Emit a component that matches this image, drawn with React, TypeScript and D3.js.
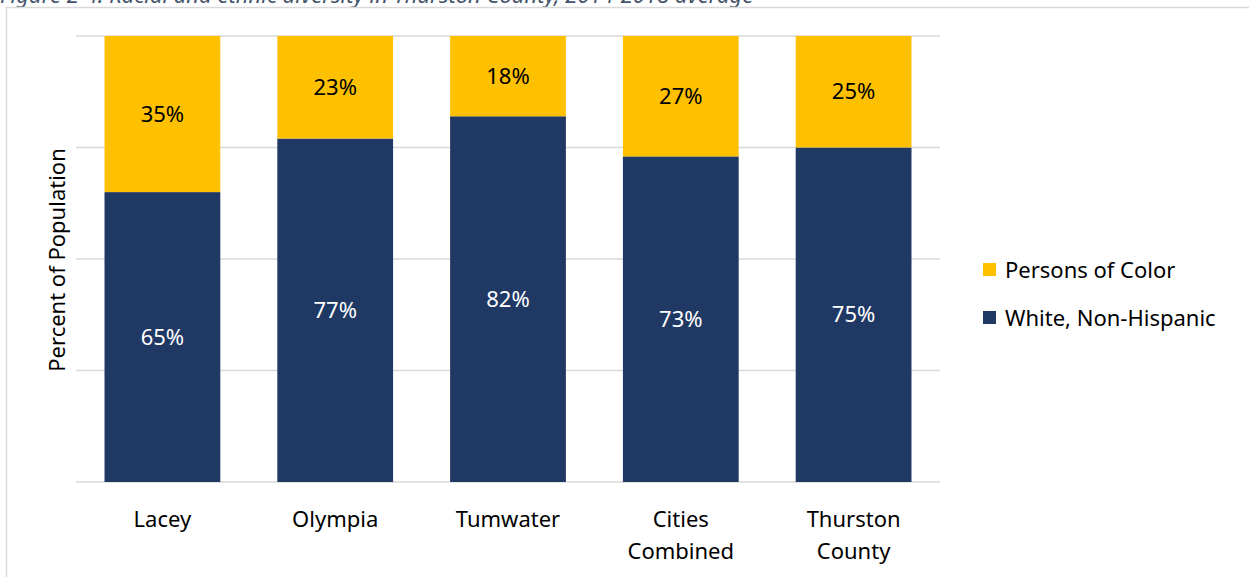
import React, { useEffect, useRef } from 'react';
import * as d3 from 'd3';

const categories = ['Lacey', 'Olympia', 'Tumwater', 'Cities\nCombined', 'Thurston\nCounty'];
const whiteNonHispanic = [65, 77, 82, 73, 75];
const personsOfColor = [35, 23, 18, 27, 25];
const yTicks = [0, 25, 50, 75, 100];
const seriesNames = ['White, Non-Hispanic', 'Persons of Color'];
const colors = ['#203864', '#FFC000'];

const caption = 'Figure 2-4. Racial and ethnic diversity in Thurston County, 2014-2018 average';

export default function App() {
  const ref = useRef<SVGSVGElement>(null);

  useEffect(() => {
    const width = 1249;
    const height = 577;
    const font = "'Noto Sans', sans-serif";
    const fs = 22;

    const svg = d3.select(ref.current);
    svg.selectAll('*').remove();

    // caption, clipped by the top edge like the reference
    svg.append('text')
      .attr('x', 0)
      .attr('y', 3)
      .attr('font-family', font)
      .attr('font-style', 'italic')
      .attr('font-size', 22)
      .attr('fill', '#44546A')
      .text(caption);

    // frame
    svg.append('path')
      .attr('d', `M6.5,${height} V7.5 H${width}`)
      .attr('fill', 'none')
      .attr('stroke', '#d9d9d9')
      .attr('stroke-width', 1.5);

    const left = 76;
    const right = 940;
    const top = 36;
    const bottom = 482;

    const x = d3.scaleBand().domain(categories).range([left, right]).paddingInner(0.33).paddingOuter(0.165);
    const y = d3.scaleLinear().domain([0, 100]).range([bottom, top]);

    svg.append('g')
      .selectAll('line')
      .data(yTicks)
      .enter()
      .append('line')
      .attr('x1', left)
      .attr('x2', right)
      .attr('y1', (d) => y(d))
      .attr('y2', (d) => y(d))
      .attr('stroke', '#d9d9d9')
      .attr('stroke-width', 1.5);

    const rows = categories.map((c, i) => ({ cat: c, white: whiteNonHispanic[i], poc: personsOfColor[i] }));
    const stack = d3.stack<any>().keys(['white', 'poc'])(rows);

    const layer = svg.append('g')
      .selectAll('g')
      .data(stack)
      .enter()
      .append('g')
      .attr('fill', (d, i) => colors[i]);

    layer.selectAll('rect')
      .data((d) => d)
      .enter()
      .append('rect')
      .attr('x', (d: any) => x(d.data.cat)!)
      .attr('width', x.bandwidth())
      .attr('y', (d) => y(d[1]))
      .attr('height', (d) => y(d[0]) - y(d[1]));

    // value labels
    stack.forEach((s, si) => {
      svg.append('g')
        .selectAll('text')
        .data(s)
        .enter()
        .append('text')
        .attr('x', (d: any) => x(d.data.cat)! + x.bandwidth() / 2)
        .attr('y', (d) => (y(d[0]) + y(d[1])) / 2)
        .attr('dy', '0.35em')
        .attr('text-anchor', 'middle')
        .attr('font-family', font)
        .attr('font-size', fs)
        .attr('fill', si === 0 ? '#ffffff' : '#000000')
        .text((d) => (d[1] - d[0]) + '%');
    });

    // category labels
    const catLabels = svg.append('g')
      .selectAll('text')
      .data(categories)
      .enter()
      .append('text')
      .attr('x', (d) => x(d)! + x.bandwidth() / 2)
      .attr('y', 527)
      .attr('text-anchor', 'middle')
      .attr('font-family', font)
      .attr('font-size', fs)
      .attr('fill', '#000000');

    catLabels.each(function (d) {
      const t = d3.select(this);
      d.split('\n').forEach((line, i) => {
        t.append('tspan')
          .attr('x', x(d)! + x.bandwidth() / 2)
          .attr('dy', i === 0 ? 0 : 32)
          .text(line);
      });
    });

    // y axis title
    svg.append('text')
      .attr('transform', 'translate(65,260) rotate(-90)')
      .attr('text-anchor', 'middle')
      .attr('font-family', font)
      .attr('font-size', fs)
      .attr('fill', '#000000')
      .text('Percent of Population');

    // legend
    const legendOrder = [1, 0];
    const legend = svg.append('g')
      .selectAll('g')
      .data(legendOrder)
      .enter()
      .append('g')
      .attr('transform', (d, i) => `translate(983,${263 + i * 48})`);

    legend.append('rect')
      .attr('width', 13)
      .attr('height', 13)
      .attr('fill', (d) => colors[d]);

    legend.append('text')
      .attr('x', 22)
      .attr('y', 7)
      .attr('dy', '0.35em')
      .attr('font-family', font)
      .attr('font-size', fs)
      .attr('fill', '#000000')
      .text((d) => seriesNames[d]);
  }, []);

  return (
    <svg
      ref={ref}
      width={1249}
      height={577}
      style={{ position: 'absolute', left: 0, top: 0, background: '#ffffff' }}
    />
  );
}
